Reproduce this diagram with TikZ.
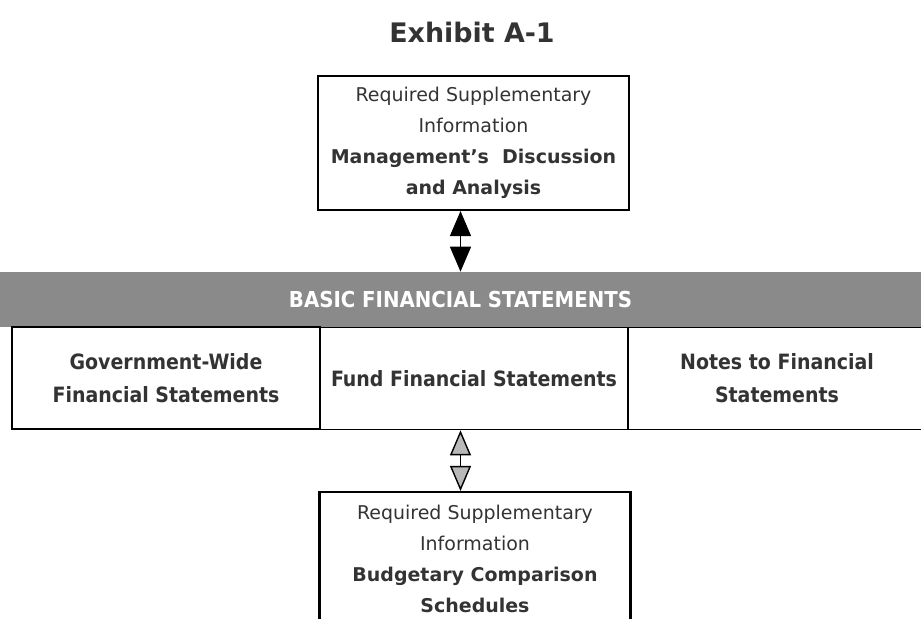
\documentclass[tikz,border=0pt]{standalone}
\usepackage{fontspec}
\setmainfont{DejaVu Sans}
\newfontfamily\condfont{DejaVu Sans Condensed}
\usetikzlibrary{arrows.meta}
\definecolor{inkgray}{HTML}{333333}
\definecolor{bandgray}{HTML}{8A8A8A}
\begin{document}
\begin{tikzpicture}[x=0.02cm,y=-0.02cm,
  rsibox/.style={draw=black,line width=1.2pt,minimum width=6.22cm,minimum height=2.68cm,
    align=center,text=inkgray,font=\fontsize{10.8}{17.6}\selectfont},
  fsbox/.style={draw=black,line width=1pt,minimum width=6.16cm,minimum height=2.04cm,
    align=center,text=inkgray,font=\condfont\bfseries\fontsize{12}{18.7}\selectfont},
  linkarrow/.style={line width=0.8pt,{Triangle[width=0.42cm,length=0.5cm]}-{Triangle[width=0.42cm,length=0.5cm]}},
  pale/.style={{Triangle[width=0.42cm,length=0.5cm,fill=gray!55]}-{Triangle[width=0.42cm,length=0.5cm,fill=gray!55]}}]
\useasboundingbox (0,0) rectangle (921,619);

% title
\node[text=inkgray,font=\bfseries\fontsize{15.3}{18}\selectfont] (title) at (472,32) {Exhibit A-1};

% supplementary information boxes
\node[rsibox] (mda) at (473.5,143) {Required Supplementary\\Information\\
  \textbf{Management's~ Discussion}\\\textbf{and Analysis}};
\node[rsibox] (bcs) at (475,559) {Required Supplementary\\Information\\
  \textbf{Budgetary Comparison}\\\textbf{Schedules}};

% basic financial statements band
\node[fill=bandgray,minimum width=18.42cm,minimum height=1.1cm,text=white,
  font=\condfont\bfseries\fontsize{12.5}{14}\selectfont] (basic) at (460.5,299.5) {BASIC FINANCIAL STATEMENTS};
\node[fsbox] (gov) at (166,378) {Government-Wide\\Financial Statements};
\node[fsbox] (fund) at (474,378.5) {Fund Financial Statements};
\node[fsbox,minimum width=5.96cm] (notes) at (777,378.5) {Notes to Financial\\Statements};

% arrows
\draw[linkarrow] (mda.south -| basic.north) -- (basic.north);
\draw[linkarrow,pale] (basic.north |- fund.south) -- (basic.north |- bcs.north);
\end{tikzpicture}
\end{document}
